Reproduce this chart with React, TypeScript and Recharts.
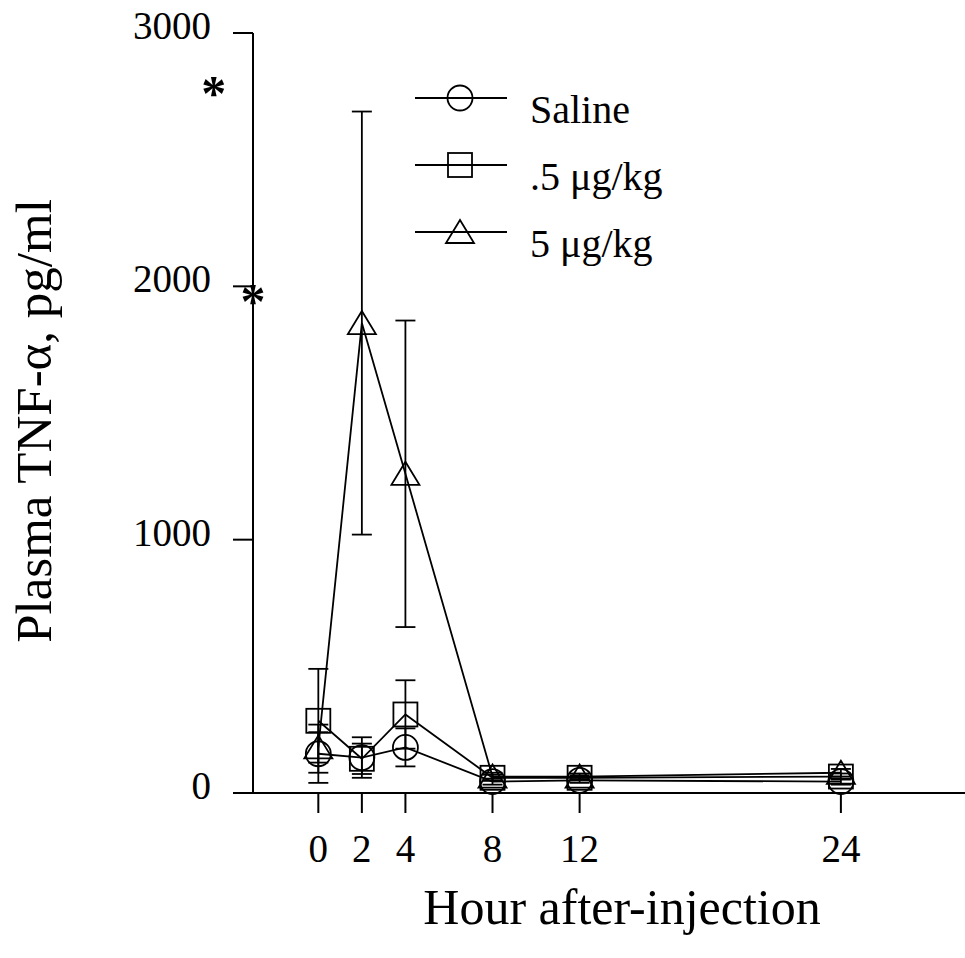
import React from 'react';
import { LineChart, Line, XAxis, YAxis, ErrorBar, Legend, ReferenceDot, Customized } from 'recharts';

const FONT = '"Liberation Serif", "Times New Roman", serif';

// hours after injection
const hours = [0, 2, 4, 8, 12, 24];

// plasma TNF-alpha, pg/ml (mean, error)
const salineMean = [155, 140, 180, 45, 50, 45];
const salineErr = [115, 80, 75, 12, 10, 12];
const lowDoseMean = [285, 135, 310, 60, 60, 65];
const lowDoseErr = [205, 60, 135, 12, 10, 12];
const highDoseMean = [180, 1855, 1260, 65, 65, 80];
const highDoseErr = [60, 835, 605, 15, 12, 15];

const seriesNames = ['Saline', '.5 μg/kg', '5 μg/kg'];
const seriesShapes = ['circle', 'square', 'triangle'];

const xTicks = [0, 2, 4, 8, 12, 24];
const yTicks = [0, 1000, 2000, 3000];

// significance marks on the left of the y axis
const starHours = [-4.8, -3];
const starValues = [2765, 1945];

const data = hours.map((h, i) => ({
  hour: h,
  saline: salineMean[i],
  salineErr: salineErr[i],
  low: lowDoseMean[i],
  lowErr: lowDoseErr[i],
  high: highDoseMean[i],
  highErr: highDoseErr[i],
}));

const SW = 1.8;

function Marker({ shape, cx, cy }: { shape: string; cx: number; cy: number }) {
  if (shape === 'circle') {
    return <circle cx={cx} cy={cy} r={12.5} fill="none" stroke="#000" strokeWidth={SW} />;
  }
  if (shape === 'square') {
    return <rect x={cx - 12} y={cy - 12} width={24} height={24} fill="none" stroke="#000" strokeWidth={SW} />;
  }
  return (
    <path
      d={`M${cx},${cy - 12} L${cx + 14},${cy + 11} L${cx - 14},${cy + 11} Z`}
      fill="none"
      stroke="#000"
      strokeWidth={SW}
    />
  );
}

const makeDot = (shape: string) => (props: any) => {
  const { cx, cy, index } = props;
  if (cx == null || cy == null) return <g key={`${shape}-${index}`} />;
  return (
    <g key={`${shape}-${index}`}>
      <Marker shape={shape} cx={cx} cy={cy} />
    </g>
  );
};

const YTick = (props: any) => {
  const { x, y, payload } = props;
  return (
    <text x={x} y={y} dy={6} textAnchor="end" fontSize={39} fontFamily={FONT} fill="#000">
      {payload.value}
    </text>
  );
};

// legend keeps the series order of the original figure
const LegendBox = () => (
  <svg width={280} height={220}>
    {seriesNames.map((name, i) => {
      const y = 28 + i * 67;
      return (
        <g key={name}>
          <line x1={15} x2={107} y1={y} y2={y} stroke="#000" strokeWidth={SW} />
          <Marker shape={seriesShapes[i]} cx={60} cy={y} />
          <text x={130} y={y + 25} fontSize={40} fontFamily={FONT} fill="#000">
            {name}
          </text>
        </g>
      );
    })}
  </svg>
);

const Titles = () => (
  <g>
    <text x={622} y={924} textAnchor="middle" fontSize={50} fontFamily={FONT} fill="#000">
      Hour after-injection
    </text>
    <text
      x={51}
      y={421}
      textAnchor="middle"
      fontSize={51}
      fontFamily={FONT}
      fill="#000"
      transform="rotate(-90, 51, 421)"
    >
      Plasma TNF-α, pg/ml
    </text>
  </g>
);

export default function App() {
  return (
    <div style={{ position: 'absolute', left: 0, top: 0, width: 965, height: 958, background: '#fff' }}>
      <LineChart width={965} height={958} data={data} margin={{ top: 33, right: 0, bottom: 0, left: 0 }}>
        <XAxis
          dataKey="hour"
          type="number"
          domain={[-3, 29.7]}
          allowDataOverflow
          ticks={xTicks}
          height={165}
          tickSize={20}
          tickMargin={21}
          axisLine={{ stroke: '#000', strokeWidth: 2 }}
          tickLine={{ stroke: '#000', strokeWidth: 2 }}
          tick={{ fontSize: 39, fontFamily: FONT, fill: '#000' }}
        />
        <YAxis
          type="number"
          domain={[0, 3000]}
          ticks={yTicks}
          width={253}
          tickSize={20}
          tickMargin={22}
          axisLine={{ stroke: '#000', strokeWidth: 2 }}
          tickLine={{ stroke: '#000', strokeWidth: 2 }}
          tick={<YTick />}
        />
        <Legend
          layout="horizontal"
          verticalAlign="middle"
          align="center"
          content={<LegendBox />}
          wrapperStyle={{ position: 'absolute', left: 400, top: 70, width: 280, height: 220 }}
        />
        <Line
          dataKey="saline"
          name={seriesNames[0]}
          stroke="#000"
          strokeWidth={SW}
          dot={makeDot('circle')}
          activeDot={false}
          isAnimationActive={false}
        >
          <ErrorBar dataKey="salineErr" width={10} stroke="#000" strokeWidth={SW} direction="y" />
        </Line>
        <Line
          dataKey="low"
          name={seriesNames[1]}
          stroke="#000"
          strokeWidth={SW}
          dot={makeDot('square')}
          activeDot={false}
          isAnimationActive={false}
        >
          <ErrorBar dataKey="lowErr" width={10} stroke="#000" strokeWidth={SW} direction="y" />
        </Line>
        <Line
          dataKey="high"
          name={seriesNames[2]}
          stroke="#000"
          strokeWidth={SW}
          dot={makeDot('triangle')}
          activeDot={false}
          isAnimationActive={false}
        >
          <ErrorBar dataKey="highErr" width={10} stroke="#000" strokeWidth={SW} direction="y" />
        </Line>
        {starHours.map((h, i) => (
          <ReferenceDot
            key={`star-${i}`}
            x={h}
            y={starValues[i]}
            r={1}
            fill="none"
            stroke="none"
            ifOverflow="visible"
            label={{ value: '*', position: 'center', fontSize: 50, fontWeight: 'bold', fill: '#000', fontFamily: FONT }}
          />
        ))}
        <Customized component={Titles} />
      </LineChart>
    </div>
  );
}
